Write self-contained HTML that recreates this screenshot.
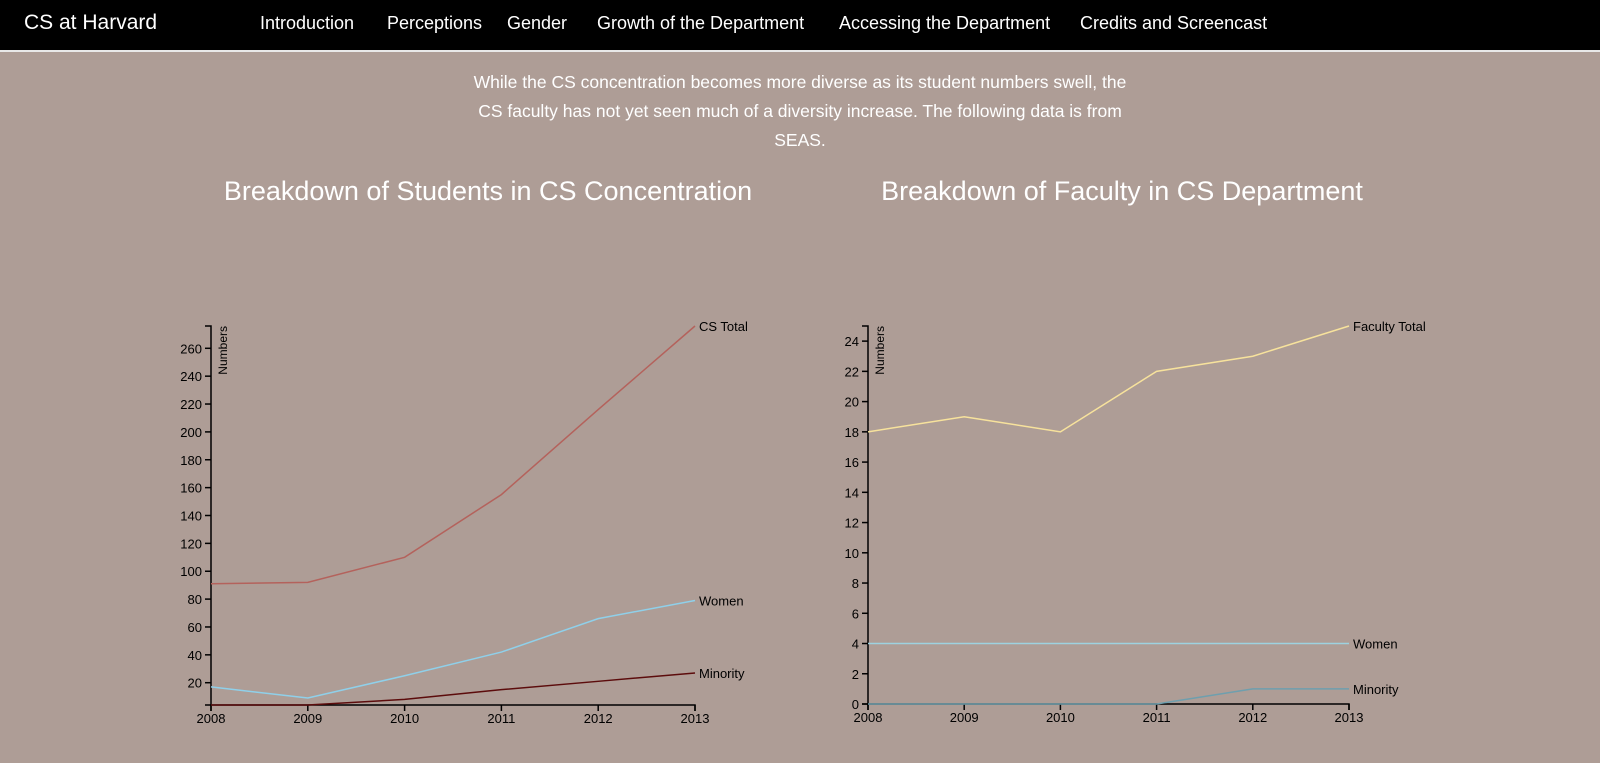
<!DOCTYPE html>
<html><head><meta charset="utf-8">
<style>
html,body{margin:0;padding:0;width:1600px;height:763px;overflow:hidden;background:#ae9d96;font-family:"Liberation Sans",sans-serif;}
#nav{position:absolute;left:0;top:0;width:1600px;height:50px;background:#000;border-bottom:2px solid #e8e8e8;}
#nav span{position:absolute;top:13px;color:#fff;font-size:18px;white-space:nowrap;}
#brand{font-size:21px !important;top:11px !important;}
#intro{position:absolute;left:400px;width:800px;top:68px;text-align:center;color:#fff;font-size:17.5px;line-height:29px;}
svg{position:absolute;left:0;top:0;}
</style></head><body>
<div id="nav">
<span id="brand" style="left:24px">CS at Harvard</span>
<span style="left:260px">Introduction</span>
<span style="left:387px">Perceptions</span>
<span style="left:507px">Gender</span>
<span style="left:597px">Growth of the Department</span>
<span style="left:839px">Accessing the Department</span>
<span style="left:1080px">Credits and Screencast</span>
</div>
<div id="intro">While the CS concentration becomes more diverse as its student numbers swell, the<br>CS faculty has not yet seen much of a diversity increase. The following data is from<br>SEAS.</div>
<svg id="chart" width="1600" height="763"></svg>
<script>
const years=[2008,2009,2010,2011,2012,2013];
const studentTotal=[91,92,110,155,216,276];
const studentWomen=[17,9,25,42,66,79];
const studentMinority=[4,4,8,15,21,27];
const studentTicks=[20,40,60,80,100,120,140,160,180,200,220,240,260];
const facultyTotal=[18,19,18,22,23,25];
const facultyWomen=[4,4,4,4,4,4];
const facultyMinority=[0,0,0,0,1,1];
const facultyTicks=[0,2,4,6,8,10,12,14,16,18,20,22,24];

const NS="http://www.w3.org/2000/svg";
const svg=document.getElementById('chart');
function mk(tag,attrs,parent){const e=document.createElementNS(NS,tag);for(const k in attrs)e.setAttribute(k,attrs[k]);(parent||svg).appendChild(e);return e;}

function drawChart(cfg){
  const g=mk('g',{});
  
  
  const x=v=>cfg.x0+(v-years[0])/(years[years.length-1]-years[0])*(cfg.x1-cfg.x0);
  const y=v=>cfg.y0-(v-cfg.dmin)/(cfg.dmax-cfg.dmin)*(cfg.y0-cfg.y1);
  const t=mk('text',{x:cfg.tx,y:200,'text-anchor':'middle','font-size':27,fill:'#fff'},g);
  t.textContent=cfg.title;
  
  
  const ya=mk('path',{d:`M${cfg.x0-6},${cfg.y1}H${cfg.x0}V${cfg.y0}H${cfg.x0-6}`,stroke:'#000',fill:'none','stroke-width':1.5},g);
  
  
  cfg.ticks.forEach(v=>{
    mk('line',{x1:cfg.x0-6,x2:cfg.x0,y1:y(v),y2:y(v),stroke:'#000','stroke-width':1.5},g);
    const l=mk('text',{x:cfg.x0-9,y:y(v)+5,'text-anchor':'end','font-size':13,fill:'#000'},g);
    l.textContent=v;
    
    
  });
  const yt=mk('text',{transform:`translate(${cfg.x0+16},${cfg.y1}) rotate(-90)`,'text-anchor':'end','font-size':12,fill:'#000'},g);
  yt.textContent='Numbers';
  
  
  const xa=mk('path',{d:`M${cfg.x0},${cfg.y0+6}V${cfg.y0}H${cfg.x1}V${cfg.y0+6}`,stroke:'#000',fill:'none','stroke-width':1.5},g);
  
  
  years.forEach(v=>{
    mk('line',{x1:x(v),x2:x(v),y1:cfg.y0,y2:cfg.y0+6,stroke:'#000','stroke-width':1.5},g);
    const l=mk('text',{x:x(v),y:cfg.y0+18,'text-anchor':'middle','font-size':13,fill:'#000'},g);
    l.textContent=v;
    
    
  });
  cfg.series.forEach(s=>{
    const d=s.vals.map((v,i)=>(i?'L':'M')+x(years[i])+','+y(v)).join('');
    const p=mk('path',{d:d,stroke:s.color,fill:'none','stroke-width':1.5},g);
    
    
    const lv=s.vals[s.vals.length-1];
    const lb=mk('text',{x:x(years[years.length-1])+4,y:y(lv)+5,'font-size':13,fill:'#000'},g);
    lb.textContent=s.label;
    
    
  });
}
drawChart({name:'students-chart',title:'Breakdown of Students in CS Concentration',tx:488,x0:211,x1:695,y0:705,y1:326,dmin:4,dmax:276,ticks:studentTicks,
  series:[{id:'cs-total',label:'CS Total',vals:studentTotal,color:'#b4625c'},
          {id:'women',label:'Women',vals:studentWomen,color:'#8fd0ea'},
          {id:'minority',label:'Minority',vals:studentMinority,color:'#5c0c0c'}]});
drawChart({name:'faculty-chart',title:'Breakdown of Faculty in CS Department',tx:1122,x0:868,x1:1349,y0:704,y1:326,dmin:0,dmax:25,ticks:facultyTicks,
  series:[{id:'faculty-total',label:'Faculty Total',vals:facultyTotal,color:'#f7e29c'},
          {id:'faculty-women',label:'Women',vals:facultyWomen,color:'#9dd2e0'},
          {id:'faculty-minority',label:'Minority',vals:facultyMinority,color:'#6e9fae'}]});
</script>
</body></html>
